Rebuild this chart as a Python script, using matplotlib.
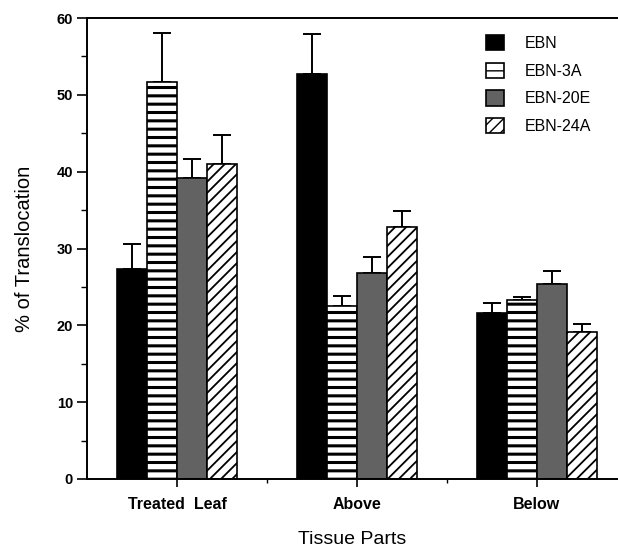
import numpy as np
import matplotlib.pyplot as plt
from matplotlib.ticker import MultipleLocator, FixedLocator

plt.rcParams['font.family'] = ['Liberation Sans', 'DejaVu Sans']

#------------------data-----------------------------------------
groups = ["Treated  Leaf", "Above", "Below"]
series = ["EBN", "EBN-3A", "EBN-20E", "EBN-24A"]

ebn = [27.3, 52.7, 21.6]
ebn_err = [3.3, 5.2, 1.3]
ebn3a = [51.7, 22.5, 23.3]
ebn3a_err = [6.4, 1.3, 0.4]
ebn20e = [39.2, 26.8, 25.4]
ebn20e_err = [2.5, 2.1, 1.7]
ebn24a = [41.0, 32.8, 19.1]
ebn24a_err = [3.8, 2.1, 1.1]
#---------------------------------------------------------------

values = [ebn, ebn3a, ebn20e, ebn24a]
errors = [ebn_err, ebn3a_err, ebn20e_err, ebn24a_err]
faces = ['black', 'white', '#626262', 'white']
hatches = [None, '--', None, '///']
hatch_lw = [1.0, 2.2, 1.0, 1.3]

fig = plt.figure(figsize=(6.18, 5.48), dpi=100)
ax = fig.add_axes([87/618, 69/548, 531/618, 461/548])

x = np.arange(len(groups))
w = 1/6
for k in range(4):
    pos = x + (k - 1.5)*w
    bars = ax.bar(pos, values[k], width=w, color=faces[k], edgecolor='black',
                  linewidth=1.2, hatch=hatches[k], label=series[k], zorder=2)
    for b in bars:
        if hasattr(b, 'set_hatch_linewidth'):
            b.set_hatch_linewidth(hatch_lw[k])
    ax.errorbar(pos, values[k], yerr=[np.zeros(3), errors[k]], fmt='none',
                ecolor='black', elinewidth=1.4, capsize=6.5, capthick=1.4, zorder=1)

ax.set_xlim(-0.5, 2.45)
ax.set_ylim(0, 60)
ax.yaxis.set_major_locator(MultipleLocator(10))
ax.yaxis.set_minor_locator(MultipleLocator(5))
ax.set_xticks(x)
ax.set_xticklabels(groups, fontsize=11.5, fontweight='bold')
ax.xaxis.set_minor_locator(FixedLocator([0.5, 1.5]))
for lab in ax.get_yticklabels():
    lab.set_fontweight('bold')
    lab.set_fontsize(10.5)

ax.tick_params(axis='y', which='major', length=7, width=1.2, pad=3)
ax.tick_params(axis='y', which='minor', length=4, width=1.0)
ax.tick_params(axis='x', which='major', length=6, width=1.2, pad=7)
ax.tick_params(axis='x', which='minor', length=3, width=1.0)

ax.spines['right'].set_visible(False)
for s in ['left', 'bottom', 'top']:
    ax.spines[s].set_linewidth(1.4)

ax.set_xlabel("Tissue Parts", fontsize=14, labelpad=14)
ax.set_ylabel("% of Translocation", fontsize=14.5, labelpad=16)

ax.legend(loc='upper left', bbox_to_anchor=(486/618, 1 - 35/548),
          bbox_transform=fig.transFigure, frameon=False, fontsize=11.5,
          handlelength=1.1, handleheight=1.1, handletextpad=1.3,
          labelspacing=0.72, borderpad=0, borderaxespad=0)

plt.savefig("out.png", dpi=100)
